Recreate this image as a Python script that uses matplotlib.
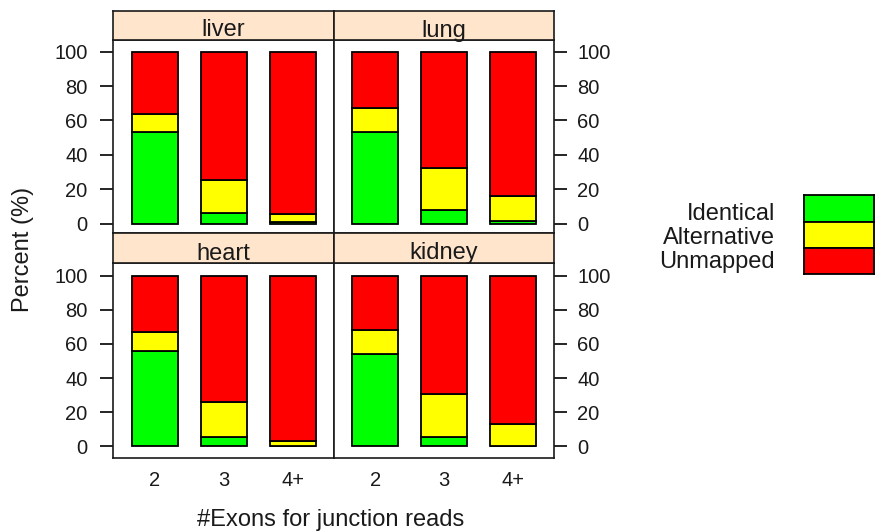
import matplotlib
matplotlib.use("Agg")
import matplotlib.pyplot as plt
import numpy as np

plt.rcParams['font.family'] = ['Liberation Sans', 'DejaVu Sans']

# Junction-read mapping outcome (%) by number of exons spanned
exon_groups = ["2", "3", "4+"]
tissues = ["liver", "lung", "heart", "kidney"]
categories = ["Identical", "Alternative", "Unmapped"]
colors = ["#00FF00", "#FFFF00", "#FF0000"]

identical = {
    "liver":  [53.2, 6.4, 0.8],
    "lung":   [53.2, 7.6, 1.5],
    "heart":  [56.1, 5.5, 0.3],
    "kidney": [53.9, 5.5, 0.2],
}
alternative = {
    "liver":  [10.7, 18.9, 4.7],
    "lung":   [13.8, 24.7, 14.6],
    "heart":  [10.8, 20.2, 2.8],
    "kidney": [14.3, 24.9, 12.6],
}
unmapped = {
    "liver":  [36.1, 74.7, 94.5],
    "lung":   [33.0, 67.7, 83.9],
    "heart":  [33.1, 74.3, 96.9],
    "kidney": [31.8, 69.6, 87.2],
}
y_ticks = [0, 20, 40, 60, 80, 100]

W, H = 875, 532
fig = plt.figure(figsize=(W / 100, H / 100), dpi=100)


def rect(x0, y0, x1, y1):
    """Pixel box (top-left origin) -> figure fraction [l, b, w, h]."""
    return [x0 / W, 1 - y1 / H, (x1 - x0) / W, (y1 - y0) / H]


EDGE = "#1a1a1a"
LW = 1.2
col_x = [(113.3, 334.0), (334.0, 554.0)]
rows = [
    dict(strip=(11, 40), panel=(40, 233), ylim=(-5.5, 106.8)),
    dict(strip=(233, 263), panel=(263, 458.3), ylim=(-7.2, 107.6)),
]
layout = [["liver", "lung"], ["heart", "kidney"]]

x = np.arange(1, len(exon_groups) + 1)
for r, row in enumerate(rows):
    for c, (x0, x1) in enumerate(col_x):
        tissue = layout[r][c]
        ax = fig.add_axes(rect(x0, row["panel"][0], x1, row["panel"][1]))
        bottom = np.zeros(len(x))
        for vals, colr in zip((identical[tissue], alternative[tissue], unmapped[tissue]), colors):
            ax.bar(x, vals, width=0.667, bottom=bottom, color=colr,
                   edgecolor="black", linewidth=1.3, zorder=2)
            bottom = bottom + np.array(vals)
        ax.set_xlim(0.4, 3.6)
        ax.set_ylim(*row["ylim"])
        for s in ax.spines.values():
            s.set_linewidth(LW)
            s.set_color(EDGE)
        ax.set_yticks(y_ticks)
        ax.set_yticklabels([str(v) for v in y_ticks])
        ax.set_xticks(x)
        if r == 1:
            ax.set_xticklabels(exon_groups)
            ax.tick_params(axis="x", length=0, pad=9, labelsize=14.5,
                           labelcolor="#1a1a1a")
        else:
            ax.tick_params(axis="x", length=0, labelbottom=False)
        if c == 0:
            ax.tick_params(axis="y", left=True, right=False, labelleft=True,
                           labelright=False, direction="out", length=9.4,
                           width=1.2, pad=9, labelsize=14.5, color="black",
                           labelcolor="#1a1a1a")
        else:
            ax.tick_params(axis="y", left=False, right=True, labelleft=False,
                           labelright=True, direction="out", length=9.4,
                           width=1.2, pad=7.2, labelsize=14.5, color="black",
                           labelcolor="#1a1a1a")
            for lab in ax.get_yticklabels():
                lab.set_horizontalalignment("left")

        # strip header
        sax = fig.add_axes(rect(x0, row["strip"][0], x1, row["strip"][1]))
        sax.set_facecolor("#FFE5CC")
        sax.set_xticks([])
        sax.set_yticks([])
        for s in sax.spines.values():
            s.set_linewidth(LW)
            s.set_color(EDGE)
        sax.text(0.5, 3.5 / (row["strip"][1] - row["strip"][0]), tissue,
                 transform=sax.transAxes, ha="center", va="baseline",
                 fontsize=17, color="#1a1a1a")

# axis titles
fig.text(23 / W, 1 - 249 / H, "Percent (%)", rotation=90, ha="center",
         va="center", fontsize=17, color="#1a1a1a")
fig.text(331 / W, 1 - 520 / H, "#Exons for junction reads", ha="center",
         va="center", fontsize=17, color="#1a1a1a")

# legend: labels on the left, stacked colour keys on the right
key_edges = [195, 222.3, 248.3, 274.3]
label_baselines = [220, 244, 268]
for i, (lab, colr) in enumerate(zip(categories, colors)):
    kax = fig.add_axes(rect(804, key_edges[i], 874, key_edges[i + 1]))
    kax.set_facecolor(colr)
    kax.set_xticks([])
    kax.set_yticks([])
    for s in kax.spines.values():
        s.set_linewidth(1.3)
        s.set_color("black")
    fig.text(775 / W, 1 - label_baselines[i] / H, lab, ha="right",
             va="baseline", fontsize=17, color="#1a1a1a")

fig.savefig("out.png", dpi=100)
